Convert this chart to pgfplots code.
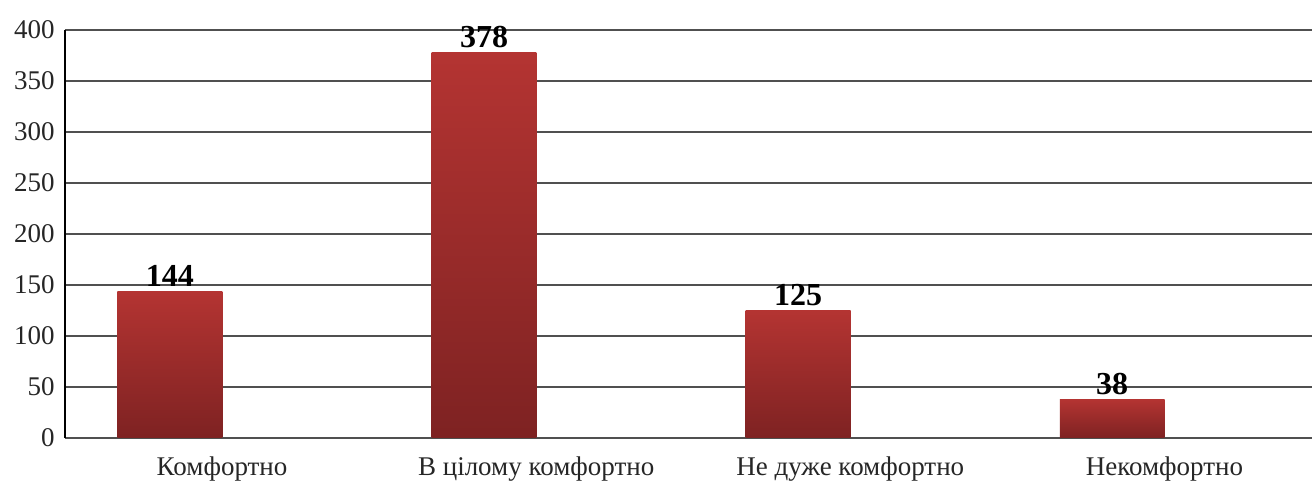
\documentclass[border=0pt]{standalone}
\usepackage{pgfplots}
\pgfplotsset{compat=1.18}
\usepackage{fontspec}
\setmainfont{Liberation Serif}
\usetikzlibrary{calc}
\definecolor{bartop}{RGB}{180,52,50}
\definecolor{barbot}{RGB}{126,34,34}
\definecolor{gridc}{RGB}{80,80,80}
\begin{document}
\begin{tikzpicture}
\begin{axis}[
    name=ax,
    scale only axis,
    width=623.5pt,
    height=204pt,
    ybar,
    bar width=0.334,
    xmin=-0.5, xmax=3.47,
    ymin=0, ymax=400,
    ytick={0,50,...,400},
    xtick={0,1,2,3},
    xticklabels={Комфортно,В цілому комфортно,Не дуже комфортно,Некомфортно},
    major tick length=0pt,
    axis x line*=bottom,
    axis y line*=left,
    x axis line style={draw=gridc,line width=1pt},
    y axis line style={draw=black,line width=0.7pt},
    ymajorgrids,
    major grid style={draw=gridc,line width=1pt},
    /pgf/number format/assume math mode=true,
    tick label style={font=\fontsize{13.5}{15}\selectfont,text=black!85},
    yticklabel style={inner sep=0pt,xshift=-5pt},
    xticklabel style={inner sep=0pt,yshift=-9pt},
    nodes near coords,
    nodes near coords style={font=\fontsize{16}{18}\selectfont\bfseries,inner sep=1pt,yshift=1pt},
    barstyle/.style={top color=bartop,bottom color=barbot,draw=none,bar shift=-0.166},
]
% one plot per bar so that each bar gets its own shading
\addplot[barstyle] coordinates {(0,144)};
\addplot[barstyle] coordinates {(1,378)};
\addplot[barstyle] coordinates {(2,125)};
\addplot[barstyle] coordinates {(3,38)};
\end{axis}
\pgfresetboundingbox
\path ($(ax.south west)+(-32.5pt,-21.5pt)$) rectangle ($(ax.north east)+(0pt,15pt)$);
\end{tikzpicture}
\end{document}
